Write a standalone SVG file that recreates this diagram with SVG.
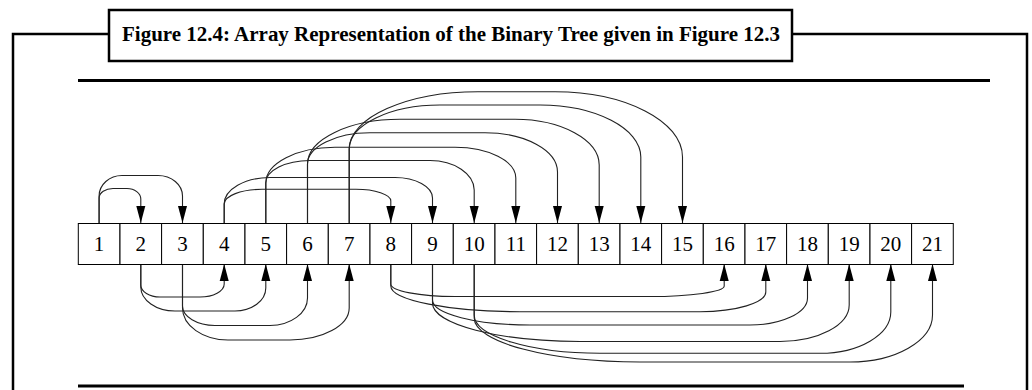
<svg xmlns="http://www.w3.org/2000/svg" width="1032" height="390" viewBox="0 0 1032 390">
<style>
.frame{fill:none;stroke:#000;stroke-width:2.5}
.rule{stroke:#000;stroke-width:3}
.title{font-family:"Liberation Serif",serif;font-weight:bold;font-size:20px;fill:#000}
.cell rect{fill:#fff;stroke:#000;stroke-width:1}
.cell text{font-family:"Liberation Serif",serif;font-size:21px;fill:#000;text-anchor:middle}
.arc{fill:none;stroke:#222;stroke-width:1.1;marker-end:url(#ah)}
</style>
<defs>
<marker id="ah" markerUnits="userSpaceOnUse" markerWidth="17" markerHeight="10" viewBox="0 0 17 10" refX="17" refY="5" orient="auto">
<path d="M0,0.5 L17,5 L0,9.5 z" fill="#000"/>
</marker>
</defs>
<rect width="1032" height="390" fill="#fff"/>
<g id="frame">
<path class="frame" d="M13,390 V34 H109"/>
<path class="frame" d="M792,34 H1027 V390"/>
<rect class="frame" x="109" y="10" width="683" height="51" fill="#fff"/>
<text class="title" x="122" y="41" textLength="658" lengthAdjust="spacingAndGlyphs">Figure 12.4: Array Representation of the Binary Tree given in Figure 12.3</text>
<line class="rule" x1="78" y1="80.5" x2="990" y2="80.5"/>
<line class="rule" x1="78" y1="386" x2="964" y2="386"/>
</g>
<g id="connectors">
<path class="arc" d="M99.1,223 V198 C99.1,192.8 105.4,188.5 113,188.5 H127 C134.6,188.5 140.8,193.2 140.8,199 V223"/>
<path class="arc" d="M99.1,223 V196 C99.1,184.7 109.4,175.5 122,175.5 H158 C171.5,175.5 182.5,184.7 182.5,196 V223"/>
<path class="arc" d="M224.2,223 V204 C224.2,195.9 241.2,189.3 262,189.3 H356 C375.1,189.3 390.8,194.6 390.8,201 V223"/>
<path class="arc" d="M224.2,223 V204 C224.2,189.4 244.8,177.5 270,177.5 H395 C415.6,177.5 432.5,186.7 432.5,198 V223"/>
<path class="arc" d="M265.8,223 V183 C265.8,170.6 285.7,160.5 310,160.5 H430 C454.3,160.5 474.2,173.8 474.2,190 V223"/>
<path class="arc" d="M265.8,223 V183 C265.8,163.4 296.9,147.3 335,147.3 H455 C488.4,147.3 515.8,161.1 515.8,178 V223"/>
<path class="arc" d="M307.5,223 V164 C307.5,146.8 335.6,132.7 370,132.7 H485 C524.9,132.7 557.5,150.4 557.5,172 V223"/>
<path class="arc" d="M307.5,223 V164 C307.5,139.4 349.1,119.3 400,119.3 H515 C561.3,119.3 599.2,139.9 599.2,165 V223"/>
<path class="arc" d="M349.2,223 V149 C349.2,124.8 390.1,105 440,105 H540 C595.4,105 640.8,128.4 640.8,157 V223"/>
<path class="arc" d="M349.2,223 V149 C349.2,117.5 407.2,91.7 478,91.7 H555 C625.1,91.7 682.5,121.1 682.5,157 V223"/>
<path class="arc" d="M140.8,264 V285 C140.8,291.6 149.4,297 160,297 H200 C213.3,297 224.2,291.2 224.2,284 V264"/>
<path class="arc" d="M140.8,264 V287 C140.8,300.2 156.2,311 175,311 H235 C251.9,311 265.8,300.7 265.8,288 V264"/>
<path class="arc" d="M182.5,264 V306 C182.5,316.7 197.1,325.5 215,325.5 H270 C290.6,325.5 307.5,313.1 307.5,298 V264"/>
<path class="arc" d="M182.5,264 V308 C182.5,325.6 203,340 228,340 H290 C322.6,340 349.2,325.6 349.2,308 V264"/>
<path class="arc" d="M390.8,264 V284 C390.8,290.9 419.7,296.5 455,296.5 H650 C690.8,296.5 724.2,291.8 724.2,286 V264"/>
<path class="arc" d="M390.8,264 V286 C390.8,300.1 448.9,311.7 520,311.7 H700 C736.2,311.7 765.8,302.8 765.8,292 V264"/>
<path class="arc" d="M432.5,264 V300 C432.5,313.8 476.4,325 530,325 H750 C781.6,325 807.5,312.9 807.5,298 V264"/>
<path class="arc" d="M432.5,264 V303 C432.5,324.2 498.9,341.5 580,341.5 H780 C818.1,341.5 849.2,325.1 849.2,305 V264"/>
<path class="arc" d="M474.2,264 V315 C474.2,336.1 530.8,353.3 600,353.3 H820 C858.9,353.3 890.8,334.7 890.8,312 V264"/>
<path class="arc" d="M474.2,264 V318 C474.2,342.2 548.8,362 640,362 H850 C895.4,362 932.5,340.9 932.5,315 V264"/>
</g>
<g id="n1" class="cell"><rect x="78.3" y="223.5" width="41.67" height="41"/><text x="99.1" y="251">1</text></g>
<g id="n2" class="cell"><rect x="120" y="223.5" width="41.67" height="41"/><text x="140.8" y="251">2</text></g>
<g id="n3" class="cell"><rect x="161.6" y="223.5" width="41.67" height="41"/><text x="182.5" y="251">3</text></g>
<g id="n4" class="cell"><rect x="203.3" y="223.5" width="41.67" height="41"/><text x="224.2" y="251">4</text></g>
<g id="n5" class="cell"><rect x="245" y="223.5" width="41.67" height="41"/><text x="265.8" y="251">5</text></g>
<g id="n6" class="cell"><rect x="286.6" y="223.5" width="41.67" height="41"/><text x="307.5" y="251">6</text></g>
<g id="n7" class="cell"><rect x="328.3" y="223.5" width="41.67" height="41"/><text x="349.2" y="251">7</text></g>
<g id="n8" class="cell"><rect x="370" y="223.5" width="41.67" height="41"/><text x="390.8" y="251">8</text></g>
<g id="n9" class="cell"><rect x="411.6" y="223.5" width="41.67" height="41"/><text x="432.5" y="251">9</text></g>
<g id="n10" class="cell"><rect x="453.3" y="223.5" width="41.67" height="41"/><text x="474.2" y="251">10</text></g>
<g id="n11" class="cell"><rect x="495" y="223.5" width="41.67" height="41"/><text x="515.8" y="251">11</text></g>
<g id="n12" class="cell"><rect x="536.6" y="223.5" width="41.67" height="41"/><text x="557.5" y="251">12</text></g>
<g id="n13" class="cell"><rect x="578.3" y="223.5" width="41.67" height="41"/><text x="599.2" y="251">13</text></g>
<g id="n14" class="cell"><rect x="620" y="223.5" width="41.67" height="41"/><text x="640.8" y="251">14</text></g>
<g id="n15" class="cell"><rect x="661.6" y="223.5" width="41.67" height="41"/><text x="682.5" y="251">15</text></g>
<g id="n16" class="cell"><rect x="703.3" y="223.5" width="41.67" height="41"/><text x="724.2" y="251">16</text></g>
<g id="n17" class="cell"><rect x="745" y="223.5" width="41.67" height="41"/><text x="765.8" y="251">17</text></g>
<g id="n18" class="cell"><rect x="786.6" y="223.5" width="41.67" height="41"/><text x="807.5" y="251">18</text></g>
<g id="n19" class="cell"><rect x="828.3" y="223.5" width="41.67" height="41"/><text x="849.2" y="251">19</text></g>
<g id="n20" class="cell"><rect x="870" y="223.5" width="41.67" height="41"/><text x="890.8" y="251">20</text></g>
<g id="n21" class="cell"><rect x="911.6" y="223.5" width="41.67" height="41"/><text x="932.5" y="251">21</text></g>
</svg>
